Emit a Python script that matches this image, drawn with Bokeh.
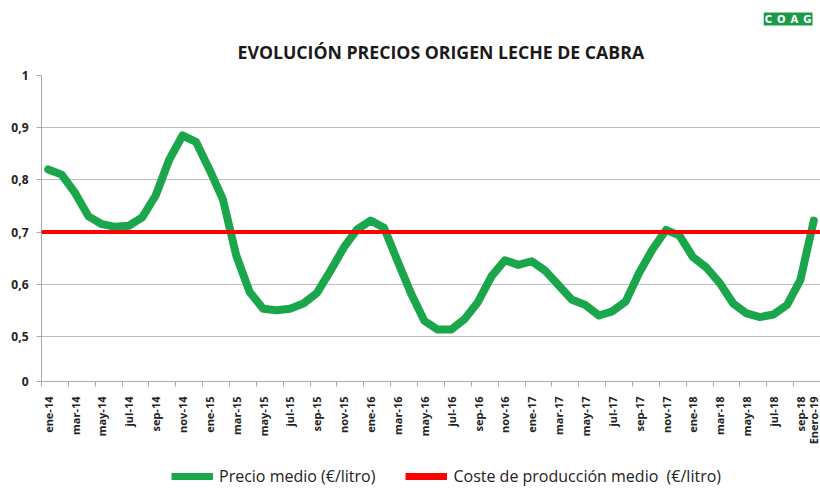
import math
from bokeh.plotting import figure
from bokeh.layouts import column
from bokeh.models import (Range1d, FixedTicker, CustomJSTickFormatter, Legend,
                          LegendItem, Span, Title)
from bokeh.embed import file_html
from bokeh.resources import INLINE

# ---------------- data ----------------
categorias = [
    "ene-14", "feb-14", "mar-14", "abr-14", "may-14", "jun-14", "jul-14", "ago-14", "sep-14", "oct-14", "nov-14", "dic-14",
    "ene-15", "feb-15", "mar-15", "abr-15", "may-15", "jun-15", "jul-15", "ago-15", "sep-15", "oct-15", "nov-15", "dic-15",
    "ene-16", "feb-16", "mar-16", "abr-16", "may-16", "jun-16", "jul-16", "ago-16", "sep-16", "oct-16", "nov-16", "dic-16",
    "ene-17", "feb-17", "mar-17", "abr-17", "may-17", "jun-17", "jul-17", "ago-17", "sep-17", "oct-17", "nov-17", "dic-17",
    "ene-18", "feb-18", "mar-18", "abr-18", "may-18", "jun-18", "jul-18", "ago-18", "sep-18", "Enero-19",
]

precio_medio = [
    0.820, 0.810, 0.775, 0.730, 0.715, 0.710, 0.712, 0.728, 0.770, 0.838, 0.885, 0.873,
    0.820, 0.763, 0.655, 0.585, 0.553, 0.550, 0.553, 0.563, 0.583, 0.625, 0.670, 0.705,
    0.722, 0.708, 0.645, 0.583, 0.530, 0.513, 0.513, 0.533, 0.566, 0.615, 0.646, 0.637,
    0.644, 0.626, 0.598, 0.570, 0.560, 0.540, 0.548, 0.567, 0.622, 0.667, 0.704, 0.693,
    0.652, 0.632, 0.602, 0.563, 0.544, 0.537, 0.542, 0.560, 0.608, 0.722,
]

coste_produccion = [
    0.70, 0.70, 0.70, 0.70, 0.70, 0.70, 0.70, 0.70, 0.70, 0.70, 0.70, 0.70,
    0.70, 0.70, 0.70, 0.70, 0.70, 0.70, 0.70, 0.70, 0.70, 0.70, 0.70, 0.70,
    0.70, 0.70, 0.70, 0.70, 0.70, 0.70, 0.70, 0.70, 0.70, 0.70, 0.70, 0.70,
    0.70, 0.70, 0.70, 0.70, 0.70, 0.70, 0.70, 0.70, 0.70, 0.70, 0.70, 0.70,
    0.70, 0.70, 0.70, 0.70, 0.70, 0.70, 0.70, 0.70, 0.70, 0.70,
]

# labelled categories on the x axis (every second month + the last one)
x_tick_idx = [0, 2, 4, 6, 8, 10, 12, 14, 16, 18, 20, 22, 24, 26, 28, 30, 32, 34,
              36, 38, 40, 42, 44, 46, 48, 50, 52, 54, 56, 57]
x_tick_labels = [categorias[i] for i in x_tick_idx]

# broken value axis: "0" shown at the bottom, then 0,5 ... 1
y_break = 0.4135
y_ticks = [y_break, 0.5, 0.6, 0.7, 0.8, 0.9, 1.0]
y_tick_labels = ["0", "0,5", "0,6", "0,7", "0,8", "0,9", "1"]

titulo = "EVOLUCIÓN PRECIOS ORIGEN LECHE DE CABRA"
logo = "C\u2002O\u2002A\u2002G"
serie1 = "Precio medio (€/litro)"
serie2 = "Coste de producción medio  (€/litro)"

# ---------------- style ----------------
VERDE = "#1ba64c"
ROJO = "#ff0000"
GRIS = "#a9a9a9"
FONT = "Open Sans"

FMT_CODE = ("const i = tvals.findIndex(t => Math.abs(t - tick) < 1e-6); "
            "return i >= 0 ? tlabels[i] : '';")

n = len(categorias)
xs = list(range(n))

p = figure(width=820, height=455, output_backend="svg", toolbar_location=None,
           x_range=Range1d(-0.5, n - 0.5), y_range=Range1d(y_break, 1.0),
           min_border_left=41, min_border_right=0, min_border_top=75,
           min_border_bottom=74, title=None)
p.outline_line_color = None
p.background_fill_color = "white"
p.border_fill_color = "white"

# title (closest to the frame) and logo above it
p.add_layout(Title(text=titulo, align="left", offset=196, text_font=FONT,
                   text_font_style="bold", text_font_size="17.7px",
                   text_color="#1a1a1a", standoff=24), "above")
p.add_layout(Title(text=logo, align="right", offset=8, text_font="DejaVu Sans",
                   text_font_style="bold", text_font_size="10px",
                   text_color="white", background_fill_color="#1c9a48",
                   padding=1, standoff=0), "above")

# y axis
yt = FixedTicker(ticks=y_ticks, minor_ticks=[])
p.yaxis.ticker = yt
p.ygrid.ticker = yt
p.yaxis.formatter = CustomJSTickFormatter(
    args=dict(tvals=y_ticks, tlabels=y_tick_labels), code=FMT_CODE)
p.yaxis.axis_line_color = GRIS
p.yaxis.major_tick_line_color = GRIS
p.yaxis.major_tick_out = 5
p.yaxis.major_tick_in = 0
p.yaxis.minor_tick_line_color = None
p.yaxis.major_label_standoff = 8
p.yaxis.major_label_text_font = FONT
p.yaxis.major_label_text_font_style = "bold"
p.yaxis.major_label_text_font_size = "12px"
p.yaxis.major_label_text_color = "#222222"
p.ygrid.grid_line_color = "#bcbcbc"
p.ygrid.grid_line_width = 1

# x axis
boundaries = [b - 0.5 for b in range(0, n + 1, 2)]
xt = FixedTicker(ticks=x_tick_idx, minor_ticks=boundaries)
p.xaxis.ticker = xt
p.xaxis.formatter = CustomJSTickFormatter(
    args=dict(tvals=x_tick_idx, tlabels=x_tick_labels), code=FMT_CODE)
p.xaxis.axis_line_color = GRIS
p.xaxis.major_tick_line_color = None
p.xaxis.major_tick_out = 0
p.xaxis.major_tick_in = 0
p.xaxis.minor_tick_line_color = GRIS
p.xaxis.minor_tick_out = 5
p.xaxis.minor_tick_in = 0
p.xaxis.major_label_orientation = math.pi / 2
p.xaxis.major_label_standoff = 10
p.xaxis.major_label_text_font = FONT
p.xaxis.major_label_text_font_style = "bold"
p.xaxis.major_label_text_font_size = "11px"
p.xaxis.major_label_text_color = "#222222"
p.xgrid.visible = False

# series
p.line(xs, precio_medio, line_width=8, line_color=VERDE,
       line_join="round", line_cap="round")
p.add_layout(Span(location=coste_produccion[0], dimension="width",
                  line_color=ROJO, line_width=4))
p.line(xs, coste_produccion, line_width=4, line_color=ROJO)

# legend strip below the chart (same series, value range kept out of view)
pl = figure(width=820, height=33, output_backend="svg", toolbar_location=None,
            x_range=Range1d(-0.5, n - 0.5), y_range=Range1d(2.0, 3.0),
            min_border=0, title=None)
pl.axis.visible = False
pl.grid.visible = False
pl.outline_line_color = None
pl.background_fill_color = "white"
pl.border_fill_color = "white"
lg = pl.line(xs, precio_medio, line_width=7, line_color=VERDE)
lr = pl.line(xs, coste_produccion, line_width=7, line_color=ROJO)
legend = Legend(items=[LegendItem(label=serie1, renderers=[lg]),
                       LegendItem(label=serie2, renderers=[lr])],
                orientation="horizontal", location=(130, 1),
                border_line_color=None, background_fill_alpha=0,
                padding=0, margin=0, spacing=30, glyph_width=42,
                glyph_height=16, label_height=16, label_standoff=6,
                label_text_font=FONT, label_text_font_size="16px",
                label_text_color="#222222")
pl.add_layout(legend, "center")

layout = column(p, pl, spacing=0)
open("out.html", "w").write(file_html(layout, INLINE))
